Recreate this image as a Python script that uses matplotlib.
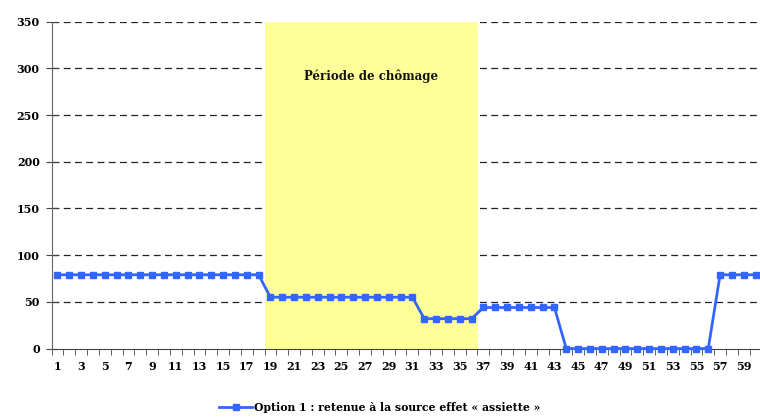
import numpy as np
import matplotlib.pyplot as plt

# categories (months) and series values
months = np.arange(1, 61)
option1 = ([79] * 18 + [55] * 13 + [32] * 5 + [44] * 7 + [0] * 13 + [79] * 4)
chomage_start, chomage_end = 19, 36
chomage_label = 'Période de chômage'
series_label = 'Option 1 : retenue à la source effet « assiette »'
yticks = [0, 50, 100, 150, 200, 250, 300, 350]

fig = plt.figure(figsize=(7.6, 4.19), dpi=100)
ax = fig.add_axes([51.5/760, 1-348.6/419, 710/760, 327/419])

for y in yticks[1:]:
    ax.axhline(y, color='#222222', lw=0.9, ls=(0, (5.5, 3.5)), zorder=0)
ax.axvspan(chomage_start - 0.5, chomage_end + 0.5, color='#FFFF99', lw=0, zorder=1)

ax.plot(months, option1, color='#3366FF', lw=2, marker='s', ms=4.5,
        label=series_label, zorder=3, clip_on=False)

ax.text((chomage_start + chomage_end) / 2, 292, chomage_label, ha='center', va='center',
        fontsize=8.5, fontweight='bold', family='DejaVu Serif', color='#111111')

ax.set_xlim(0.5, 60.5)
ax.set_ylim(0, 350)
ax.set_yticks(yticks)
ax.set_xticks(months[::2])
ax.set_xticks(np.arange(0.5, 61, 1), minor=True)
ax.tick_params(axis='x', which='major', length=0, pad=9)
ax.tick_params(axis='x', which='minor', length=4, direction='out', color='#444444')
ax.tick_params(axis='y', length=9, direction='inout', color='#444444', pad=4)
for lab in ax.get_xticklabels() + ax.get_yticklabels():
    lab.set_family('DejaVu Serif')
    lab.set_fontweight('bold')
    lab.set_fontsize(8)

for s in ['top', 'right']:
    ax.spines[s].set_visible(False)
ax.spines['left'].set_color('#666666')
ax.spines['bottom'].set_color('#444444')
ax.spines['left'].set_zorder(4)

leg = ax.legend(loc='center', bbox_to_anchor=(380/760, 1-407/419), bbox_transform=fig.transFigure,
                frameon=False, handlelength=3.0, handletextpad=0.2,
                prop={'family': 'DejaVu Serif', 'weight': 'bold', 'size': 7.8})

fig.savefig('out.png', dpi=100)
